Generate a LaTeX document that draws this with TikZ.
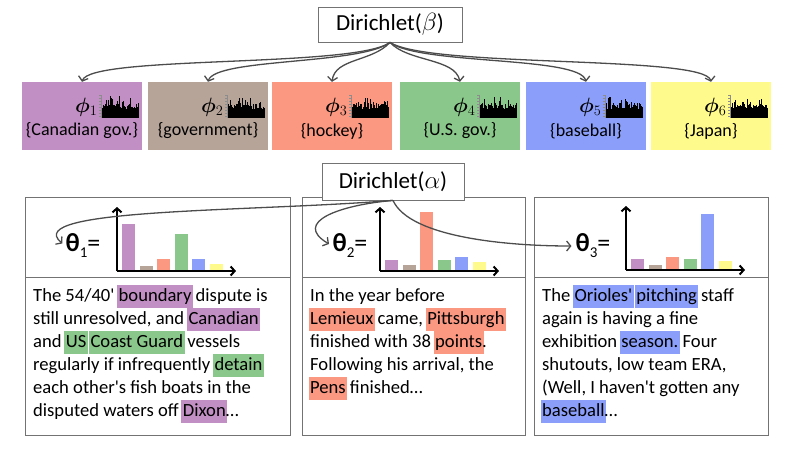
\documentclass[tikz,border=0pt]{standalone}
\usepackage{fontspec}
\setmainfont{Carlito}
\usepackage{bm}
\usetikzlibrary{arrows.meta}

\definecolor{tpurple}{RGB}{193,143,196}
\definecolor{tbrown}{RGB}{182,164,153}
\definecolor{tsalmon}{RGB}{250,152,130}
\definecolor{tgreen}{RGB}{138,199,138}
\definecolor{tblue}{RGB}{139,159,250}
\definecolor{tyellow}{RGB}{255,250,140}

\tikzstyle{dirbox} = [rectangle, draw=black!55, fill=white, line width=0.8pt, minimum width=144pt, minimum height=35pt, font=\fontsize{23}{26}\selectfont]
\tikzstyle{topic} = [rectangle, minimum width=120pt, minimum height=68pt, inner sep=0pt]
\tikzstyle{topiclabel} = [inner sep=0pt, font=\fontsize{18}{20}\selectfont]
\tikzstyle{phi} = [anchor=base west, inner sep=0pt, font=\fontsize{21}{24}\selectfont]
\tikzstyle{theta} = [inner sep=0pt, font=\fontsize{26}{28}\selectfont]
\tikzstyle{doc} = [anchor=north west, align=left, inner sep=0pt, font=\fontsize{18.6}{23}\selectfont]
\tikzstyle{panel} = [draw=black!55, line width=0.8pt]
\tikzstyle{arrow} = [line width=1.3pt, draw=black!70, -{Straight Barb[length=4pt,width=10pt]}]
\tikzstyle{axis} = [line width=2pt, -{Straight Barb[length=4pt,width=9pt]}]

% highlighted word
\newcommand{\hl}[2]{\begingroup\setlength{\fboxsep}{0pt}\kern-1.5pt\colorbox{#1}{\kern1.5pt\strut#2\kern1.5pt}\kern-1.5pt\endgroup}
% bold phi, plain index
\newcommand{\topicphi}[1]{{\boldmath$\phi$}$_{#1}$}

% small word histogram: #1 left x, #2 seed
\newcommand{\wordhist}[2]{%
  \pgfmathsetseed{#2}
  \draw [black!45, line width=0.5pt] (#1,95) -- (#1,118);
  \foreach \k in {0,...,7} \draw [black!45, line width=0.4pt] (#1,95+3*\k) -- ++(-2,0);
  \fill (#1+1,118) rectangle (#1+38,109);
  \foreach \i in {1,...,37} {
    \pgfmathsetmacro{\h}{9+6*rnd+8*(rnd>0.7)*rnd}
    \fill (#1+\i,118) rectangle ++(1.2,-\h);
  }
}

% topic proportions: #1 origin x, #2 origin y, #3 heights
\newcommand{\thetabars}[3]{%
  \foreach \c [count=\i from 0] in {tpurple,tbrown,tsalmon,tgreen,tblue,tyellow} {
    \pgfmathsetmacro{\h}{{#3}[\i]}
    \fill [\c] (#1+5+17.6*\i,#2) rectangle ++(13,-\h);
  }
  \draw [axis] (#1,#2) -- (#1,#2-64);
  \draw [axis] (#1,#2) -- (#1+119,#2);
}

\begin{document}
\begin{tikzpicture}[x=1pt, y=-1pt]
\useasboundingbox (0,0) rectangle (793,459);

%% TOPICS
\node (beta) [dirbox] at (390,24.5) {Dirichlet($\beta$)};
\node (t1) [topic, fill=tpurple] at (82,116) {};
\node (t2) [topic, fill=tbrown] at (208,116) {};
\node (t3) [topic, fill=tsalmon] at (332,116) {};
\node (t4) [topic, fill=tgreen] at (460,116) {};
\node (t5) [topic, fill=tblue] at (586,116) {};
\node (t6) [topic, fill=tyellow] at (711,116) {};

\node (p1) [phi] at (75,112) {\topicphi{1}};
\node (p2) [phi] at (201,112) {\topicphi{2}};
\node (p3) [phi] at (325,112) {\topicphi{3}};
\node (p4) [phi] at (453,112) {\topicphi{4}};
\node (p5) [phi] at (579,112) {\topicphi{5}};
\node (p6) [phi] at (704,112) {\topicphi{6}};

\wordhist{101}{3}
\wordhist{227}{7}
\wordhist{351}{12}
\wordhist{479}{21}
\wordhist{605}{33}
\wordhist{730}{45}

\node (l1) [topiclabel] at (82,131) {\{Canadian gov.\}};
\node (l2) [topiclabel] at (208,131) {\{government\}};
\node (l3) [topiclabel] at (332,131) {\{hockey\}};
\node (l4) [topiclabel] at (460,131) {\{U.S. gov.\}};
\node (l5) [topiclabel] at (586,131) {\{baseball\}};
\node (l6) [topiclabel] at (711,131) {\{Japan\}};

\draw [arrow] (beta.south) .. controls (355,68) and (90,55) .. (t1.north);
\draw [arrow] (beta.south) .. controls (360,65) and (215,58) .. (t2.north);
\draw [arrow] (beta.south) .. controls (372,62) and (335,58) .. (t3.north);
\draw [arrow] (beta.south) .. controls (408,62) and (455,58) .. (t4.north);
\draw [arrow] (beta.south) .. controls (420,65) and (580,56) .. (t5.north);
\draw [arrow] (beta.south) .. controls (430,68) and (705,55) .. (t6.north);

%% DOCUMENTS
\draw [panel] (25,197) rectangle (290,435);
\draw [panel] (25,277) -- (290,277);
\draw [panel] (302,197) rectangle (525,435);
\draw [panel] (302,277) -- (525,277);
\draw [panel] (534,197) rectangle (768,435);
\draw [panel] (534,277) -- (768,277);

\thetabars{117}{271}{47,5,12,37,12,7}
\thetabars{380}{271}{11,6,59,11,14,9}
\thetabars{626}{270}{11,5,13,11,56,9}

\node (th1) [theta] at (83,246) {\textbf{θ}\raisebox{-6pt}{\fontsize{15}{15}\selectfont 1}=};
\node (th2) [theta] at (350,246) {\textbf{θ}\raisebox{-6pt}{\fontsize{15}{15}\selectfont 2}=};
\node (th3) [theta] at (593,246) {\textbf{θ}\raisebox{-6pt}{\fontsize{15}{15}\selectfont 3}=};

\node (doc1) [doc] at (33,285) {\strut The 54/40\textquotesingle{} \hl{tpurple}{boundary} dispute is\\
still unresolved, and \hl{tpurple}{Canadian}\\
and \hl{tgreen}{US} \hl{tgreen}{Coast Guard} vessels\\
regularly if infrequently \hl{tgreen}{detain}\\
each other\textquotesingle s fish boats in the\\
disputed waters off \hl{tpurple}{Dixon}…};
\node (doc2) [doc] at (310,285) {\strut In the year before\\
\hl{tsalmon}{Lemieux} came, \hl{tsalmon}{Pittsburgh}\\
finished with 38 \hl{tsalmon}{points}.\\
Following his arrival, the\\
\hl{tsalmon}{Pens} finished…};
\node (doc3) [doc] at (542,285) {\strut The \hl{tblue}{Orioles\textquotesingle} \hl{tblue}{pitching} staff\\
again is having a fine\\
exhibition \hl{tblue}{season.} Four\\
shutouts, low team ERA,\\
(Well, I haven\textquotesingle t gotten any\\
\hl{tblue}{baseball}…};

\node (alpha) [dirbox, minimum width=142pt, minimum height=37pt] at (393,181.5) {Dirichlet($\alpha$)};

\draw [arrow, shorten >=4pt] (alpha.south) .. controls (250,212) and (20,208) .. (th1.west);
\draw [arrow, shorten >=4pt] (alpha.south) .. controls (340,205) and (292,222) .. (th2.west);
\draw [arrow, shorten >=4pt] (alpha.south) .. controls (410,238) and (510,246) .. (th3.west);
\end{tikzpicture}
\end{document}
